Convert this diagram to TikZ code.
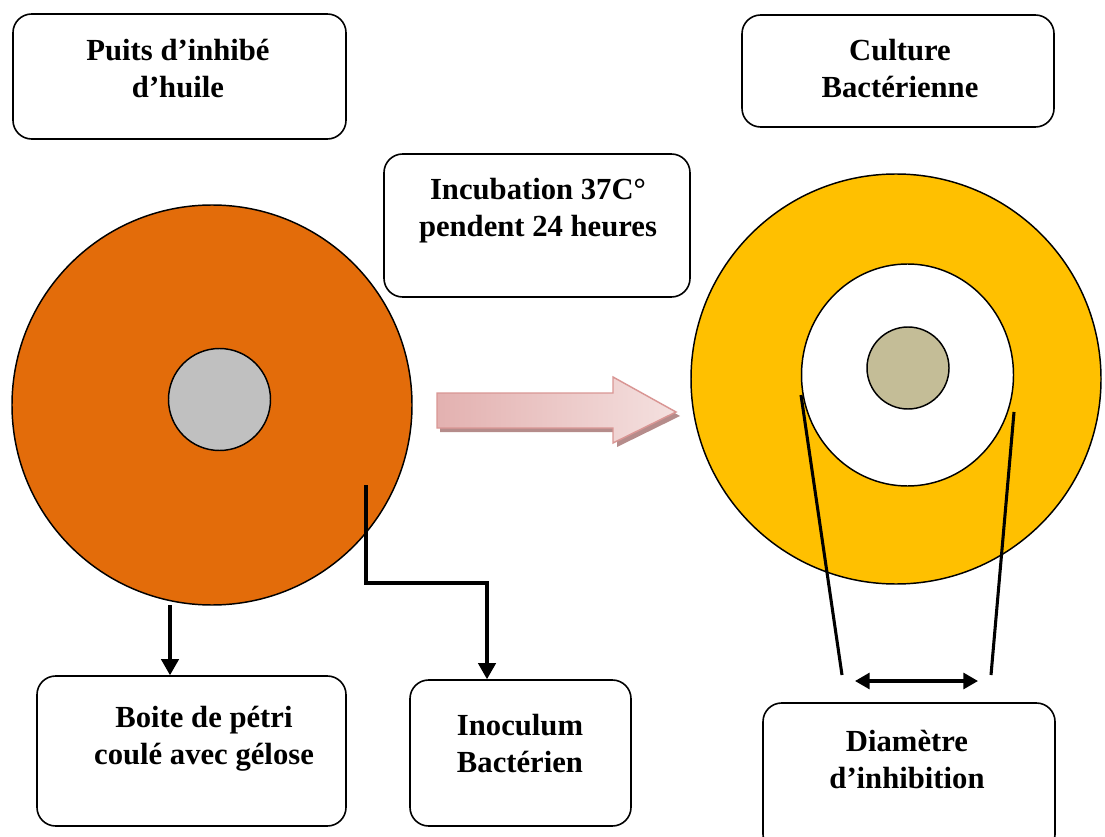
\documentclass[tikz,border=0pt]{standalone}
\usepackage{fontspec}
\setmainfont{Liberation Serif}
\usetikzlibrary{arrows.meta,calc,shapes.geometric}
\definecolor{gelose}{HTML}{E36C0A}
\definecolor{puits}{HTML}{C0C0C0}
\definecolor{culture}{HTML}{FFC000}
\definecolor{disque}{HTML}{C4BD97}
\definecolor{rosebord}{HTML}{D99694}
\definecolor{rosefonce}{HTML}{E3B1B0}
\definecolor{roseclair}{HTML}{F4E0DF}
\definecolor{ombre}{HTML}{B58C8B}
\tikzset{
  boite/.style={draw, line width=1.2pt, rounded corners=14pt, fill=white, inner sep=0pt},
  texte/.style={font=\fontsize{23}{27.75}\selectfont\bfseries, align=center, inner sep=0pt},
  fleche/.style={line width=2.3pt, -{Triangle[length=12pt,width=13pt]}},
  trait/.style={line width=2.3pt},
  disc/.style={circle, draw, line width=1.1pt, inner sep=0pt}
}
\begin{document}
\begin{tikzpicture}[x=0.75pt,y=-0.75pt]
  \useasboundingbox (0,0) rectangle (1105,837);
  % boites de texte
  \node[boite, minimum width=333*0.75pt, minimum height=125*0.75pt] (puitsbox) at (179.5,76.5) {};
  \node[texte] (puitstxt) at (178,69) {Puits d’inhibé\\d’huile};
  \node[boite, minimum width=312*0.75pt, minimum height=112*0.75pt] (culturebox) at (898,71) {};
  \node[texte] (culturetxt) at (900,69) {Culture\\Bactérienne};
  \node[boite, minimum width=306*0.75pt, minimum height=143*0.75pt] (incubox) at (537,225.5) {};
  \node[texte] (incutxt) at (538,211) {Incubation 37C°\\pendent 24 heures};
  \node[boite, minimum width=309*0.75pt, minimum height=150*0.75pt] (boitebox) at (191.5,751) {};
  \node[texte] (boitetxt) at (204,739) {Boite de pétri\\coulé avec gélose};
  \node[boite, minimum width=221*0.75pt, minimum height=146*0.75pt] (inocbox) at (520.5,753) {};
  \node[texte] (inoctxt) at (520,744) {Inoculum\\Bactérien};
  \node[boite, minimum width=292*0.75pt, minimum height=150*0.75pt] (diambox) at (909,778) {};
  \node[texte] (diamtxt) at (907,759) {Diamètre\\d’inhibition};
  % boites de petri
  \node[disc, fill=gelose, minimum size=400*0.75pt] (petri) at (212,405) {};
  \node[disc, fill=puits, minimum size=102*0.75pt] (puitsA) at (219.5,399.5) {};
  \node[disc, fill=culture, minimum size=410*0.75pt] (petriB) at (896,379) {};
  \node[draw, ellipse, line width=1.1pt, fill=white, minimum width=212*0.75pt, minimum height=222*0.75pt, inner sep=0pt] (zone) at (907.5,375) {};
  \node[disc, fill=disque, minimum size=82*0.75pt] (puitsB) at (908,368) {};
  % grande fleche
  \fill[ombre] (440,397) -- (617,397) -- (617,381) -- (680,416) -- (617,447) -- (617,432) -- (440,432) -- cycle;
  \shade[left color=rosefonce, right color=roseclair, draw=rosebord, line width=1.1pt]
    (437,393) -- (613,393) -- (613,377) -- (676,412) -- (613,443) -- (613,428) -- (437,428) -- cycle;
  % fleches
  \coordinate (s1) at (170,605);
  \draw[fleche] (s1) -- (s1 |- boitebox.north);
  \coordinate (s2) at (366,485);
  \coordinate (k2) at (487,583);
  \draw[fleche] (s2) |- (k2) -- (k2 |- inocbox.north);
  % diametre
  \coordinate (g1) at (801,395);
  \coordinate (g2) at (842,675);
  \coordinate (d1) at (1014,412);
  \coordinate (d2) at (991,675);
  \draw[trait] (g1) -- (g2);
  \draw[trait] (d1) -- (d2);
  \coordinate (a1) at (855,681);
  \coordinate (a2) at (978,681);
  \draw[line width=2.3pt, {Triangle[length=11pt,width=12pt]}-{Triangle[length=11pt,width=12pt]}] (a1) -- (a2);
\end{tikzpicture}
\end{document}
